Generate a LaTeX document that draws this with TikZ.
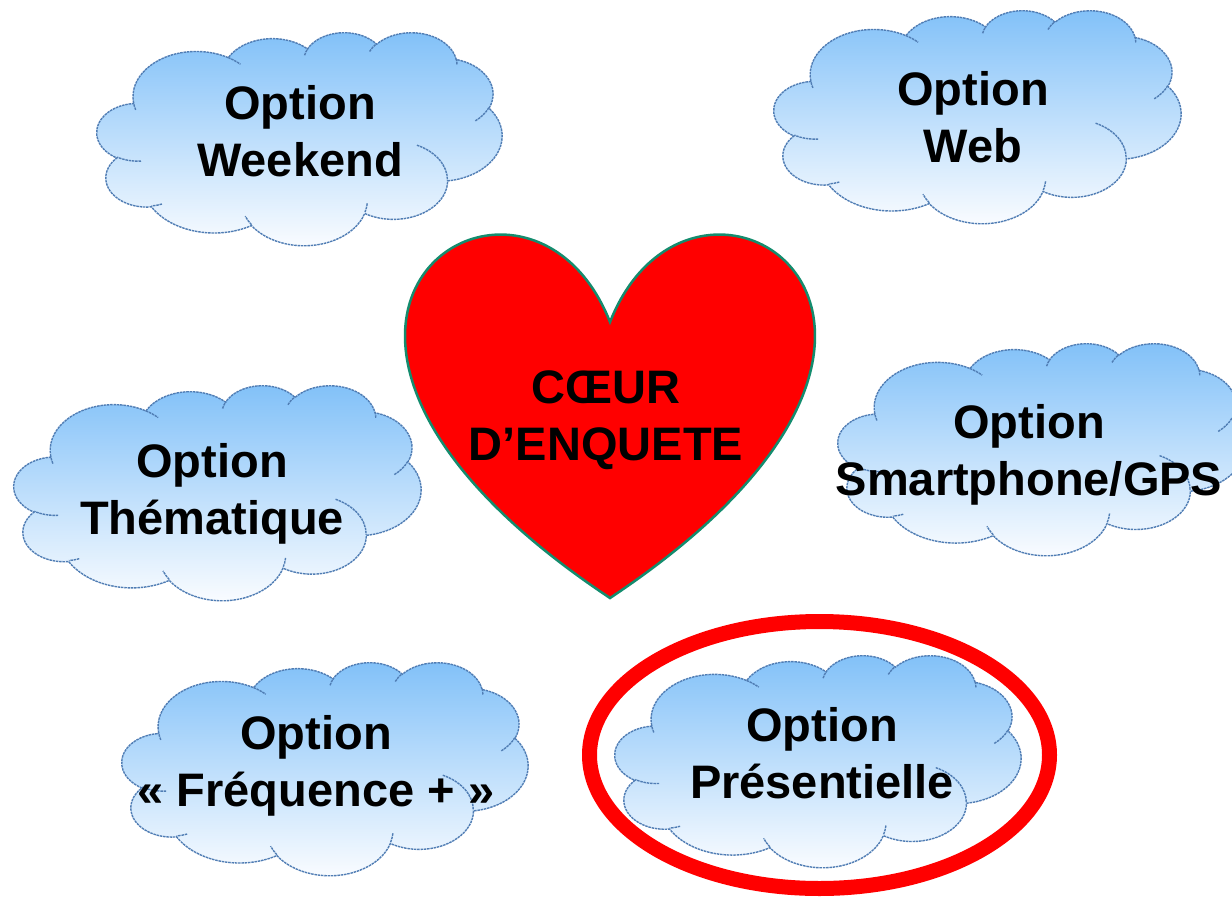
\documentclass[tikz,border=0pt]{standalone}
\usepackage{tikz}
\usepackage{fontspec}
\setmainfont{Liberation Sans}
\definecolor{cloudtop}{RGB}{128,192,248}
\definecolor{cloudbot}{RGB}{252,253,255}
\definecolor{cloudedge}{RGB}{80,125,180}
\definecolor{heartedge}{RGB}{20,140,110}
\definecolor{ringred}{RGB}{255,0,0}
\definecolor{heartred}{RGB}{255,0,0}

% convert DrawingML visual arc angles to parametric ones
\newcommand\ooconv[5]{%
  \pgfmathsetmacro\ootmpS{atan2((#2)*sin(#4),(#3)*cos(#4))}%
  \pgfmathsetmacro\ootmpE{atan2((#2)*sin((#4)+(#5)),(#3)*cos((#4)+(#5)))}%
  \pgfmathsetmacro\ootmpD{mod((\ootmpE)-(\ootmpS)+720,360)}%
  \expandafter\xdef\csname ooS#1\endcsname{\ootmpS}%
  \expandafter\xdef\csname ooD#1\endcsname{\ootmpD}%
}
\ooconv{a}{67.53}{91.90}{-190.48748}{123.78053}
\ooconv{b}{53.33}{72.67}{-144.10238}{89.94523}
\ooconv{c}{43.65}{59.45}{-145.80792}{99.72302}
\ooconv{d}{48.57}{65.95}{-130.98607}{117.24173}
\ooconv{e}{53.33}{72.73}{-78.70888}{109.02692}
\ooconv{f}{67.75}{92.20}{-46.26725}{130.269}
\ooconv{g}{57.85}{78.67}{0.62502}{114.03333}
\ooconv{h}{67.52}{92.15}{22.4516}{115.17255}
\ooconv{i}{77.20}{105.43}{66.24263}{75.71102}
\ooconv{j}{43.60}{59.18}{-274.94208}{146.73557}
\ooconv{k}{43.45}{59.45}{-246.8285}{152.51885}
\ooconv{ia}{43.45}{59.45}{86.742}{26.4295}
\ooconv{ib}{43.60}{59.18}{73.61047}{11.44747}
\ooconv{ic}{67.52}{92.15}{137.62415}{14.0811}
\ooconv{id}{67.52}{92.15}{6.45327}{15.99835}
\ooconv{ie}{57.85}{78.67}{-70.29235}{70.91737}
\ooconv{ifx}{53.33}{72.73}{30.31803}{27.7515}
\ooconv{ig}{48.57}{65.95}{-13.74433}{14.8589}
\ooconv{ih}{48.57}{65.95}{-149.18145}{18.19537}
\ooconv{ii}{43.65}{59.45}{-163.49427}{17.67198}
\ooconv{ij}{67.53}{91.90}{-66.70695}{12.31935}
\ooconv{ik}{67.53}{91.90}{157.65435}{11.85817}

\tikzset{
  cloudshape/.style={draw=cloudedge, line width=1.4pt, top color=cloudtop, bottom color=cloudbot, dash pattern=on 2.5pt off 0.8pt},
  cloudinner/.style={draw=cloudedge, line width=1.4pt, dash pattern=on 2.5pt off 0.8pt},
  cloudtext/.style={anchor=base, align=center, inner sep=0pt, font=\bfseries\fontsize{47}{57}\selectfont},
  heartshape/.style={fill=heartred, draw=heartedge, line width=2.5pt},
  ring/.style={draw=ringred, line width=15pt},
}

\newcommand\drawcloud[4]{%
  \pgfmathsetmacro\cldx{#3/432}\pgfmathsetmacro\cldy{#4/432}%
  \begin{scope}[shift={(#1,#2)},x=\cldx pt,y=-\cldy pt]
    \path[cloudshape] (39.00,143.70)
      arc[x radius=67.53,y radius=91.90,start angle=\ooSa,delta angle=\ooDa]
      arc[x radius=53.33,y radius=72.67,start angle=\ooSb,delta angle=\ooDb]
      arc[x radius=43.65,y radius=59.45,start angle=\ooSc,delta angle=\ooDc]
      arc[x radius=48.57,y radius=65.95,start angle=\ooSd,delta angle=\ooDd]
      arc[x radius=53.33,y radius=72.73,start angle=\ooSe,delta angle=\ooDe]
      arc[x radius=67.75,y radius=92.20,start angle=\ooSf,delta angle=\ooDf]
      arc[x radius=57.85,y radius=78.67,start angle=\ooSg,delta angle=\ooDg]
      arc[x radius=67.52,y radius=92.15,start angle=\ooSh,delta angle=\ooDh]
      arc[x radius=77.20,y radius=105.43,start angle=\ooSi,delta angle=\ooDi]
      arc[x radius=43.60,y radius=59.18,start angle=\ooSj,delta angle=\ooDj]
      arc[x radius=43.45,y radius=59.45,start angle=\ooSk,delta angle=\ooDk]
      -- cycle;
    \path[cloudinner]
      (46.93,261.77) arc[x radius=43.45,y radius=59.45,start angle=\ooSia,delta angle=\ooDia]
      (69.28,348.99) arc[x radius=43.60,y radius=59.18,start angle=\ooSib,delta angle=\ooDib]
      (164.78,390.90) arc[x radius=67.52,y radius=92.15,start angle=\ooSic,delta angle=\ooDic]
      (288.27,347.51) arc[x radius=67.52,y radius=92.15,start angle=\ooSid,delta angle=\ooDid]
      (341.29,229.54) arc[x radius=57.85,y radius=78.67,start angle=\ooSie,delta angle=\ooDie]
      (417.98,153.54) arc[x radius=53.33,y radius=72.73,start angle=\ooSifx,delta angle=\ooDifx]
      (383.24,54.26) arc[x radius=48.57,y radius=65.95,start angle=\ooSig,delta angle=\ooDig]
      (290.78,39.52) arc[x radius=48.57,y radius=65.95,start angle=\ooSih,delta angle=\ooDih]
      (221.41,47.20) arc[x radius=43.65,y radius=59.45,start angle=\ooSii,delta angle=\ooDii]
      (140.00,51.92) arc[x radius=67.53,y radius=91.90,start angle=\ooSij,delta angle=\ooDij]
      (41.27,157.89) arc[x radius=67.53,y radius=91.90,start angle=\ooSik,delta angle=\ooDik];
  \end{scope}}

\begin{document}
\begin{tikzpicture}[x=1pt,y=-1pt]
  \useasboundingbox (0,0) rectangle (1232,897);
  \clip (0,0) rectangle (1232,897);
  % clouds
  \drawcloud{97}{32}{405}{213}
  \drawcloud{774}{10}{407}{213}
  \drawcloud{14}{385}{407}{215}
  \drawcloud{838}{343}{407}{212}
  \drawcloud{122}{662}{406}{213}
  \drawcloud{615}{655}{406}{212}
  \node[cloudtext] (weekend) at (300,176.7) {Option\\Weekend};
  \node[cloudtext] (web) at (973,162) {Option\\Web};
  \node[cloudtext] (thematique) at (212,534.7) {Option\\Thématique};
  \node[cloudtext] (smartphone) at (1029,495) {Option\\Smartphone/GPS};
  \node[cloudtext] (frequence) at (316,806.7) {Option\\«~Fréquence +~»};
  \node[cloudtext] (presentielle) at (822,798) {Option\\Présentielle};
  % heart
  \path[heartshape] (610,322) .. controls (694.79,107.33) and (1025.48,322) .. (610,598)
     .. controls (194.52,322) and (525.21,107.33) .. (610,322) -- cycle;
  \node[cloudtext] (coeur) at (606,460) {CŒUR\\D’ENQUETE};
  % highlight ring
  \draw[ring] (819.5,755) ellipse [x radius=230, y radius=133.5];
\end{tikzpicture}
\end{document}
